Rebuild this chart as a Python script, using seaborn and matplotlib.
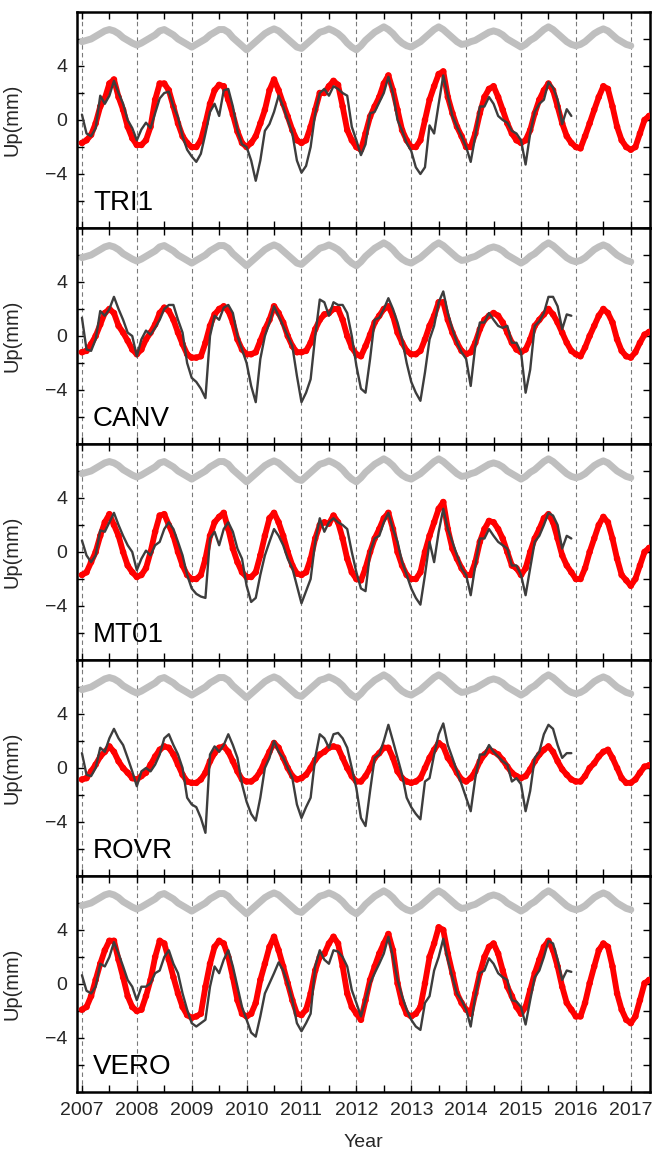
import numpy as np
import matplotlib
matplotlib.use("Agg")
import matplotlib.pyplot as plt
import seaborn as sns
from matplotlib.ticker import MultipleLocator, FixedLocator

# ---------------- data (monthly readings from the reference, start 2007.0) ----------------
stations = ["TRI1", "CANV", "MT01", "ROVR", "VERO"]
years = list(range(2007, 2018))

# common-mode signal (grey), 2007.0 .. 2017.0
gray_common = [
    5.8, 5.9, 6.0, 6.2, 6.4, 6.6, 6.7, 6.6, 6.4, 6.1, 5.9, 5.7,
    5.55, 5.7, 5.9, 6.1, 6.3, 6.6, 6.7, 6.5, 6.3, 6.0, 5.8, 5.6,
    5.4, 5.6, 5.8, 6.0, 6.3, 6.5, 6.7, 6.7, 6.5, 6.1, 5.8, 5.5,
    5.2, 5.5, 5.8, 6.1, 6.4, 6.6, 6.75, 6.6, 6.3, 6.0, 5.7, 5.4,
    5.3, 5.6, 5.9, 6.2, 6.5, 6.6, 6.75, 6.6, 6.4, 6.1, 5.7, 5.4,
    5.2, 5.5, 5.9, 6.2, 6.5, 6.7, 6.9, 6.7, 6.4, 6.0, 5.7, 5.5,
    5.4, 5.6, 5.8, 6.1, 6.4, 6.7, 6.9, 6.7, 6.4, 6.1, 5.8, 5.6,
    5.65, 5.8, 5.9, 6.1, 6.3, 6.5, 6.6, 6.5, 6.3, 6.0, 5.8, 5.6,
    5.4, 5.6, 5.9, 6.1, 6.4, 6.7, 6.9, 6.7, 6.4, 6.1, 5.8, 5.6,
    5.5, 5.6, 5.8, 6.1, 6.4, 6.6, 6.75, 6.6, 6.3, 6.0, 5.8, 5.6,
    5.5,
]

# GPS up (red dots), 2007.0 .. 2017.33
tri1_red = [
    -1.7, -1.5, -1.1, -0.25, 1.0, 1.6, 2.7, 3.0, 1.7, 0.75, -0.5, -1.35,
    -1.85, -1.85, -1.5, -0.5, 1.5, 2.7, 2.7, 2.2, 1.0, -0.25, -1.2, -1.7,
    -2.0, -2.0, -1.5, -0.25, 1.2, 2.2, 2.6, 2.5, 1.5, 0.4, -0.85, -1.7,
    -2.0, -1.7, -1.2, -0.25, 0.75, 2.2, 3.0, 2.2, 1.2, 0.25, -0.75, -1.5,
    -1.7, -1.5, -0.5, 0.75, 2.0, 2.0, 2.5, 2.9, 2.6, 1.0, -0.75, -1.5,
    -2.0, -2.2, -1.0, 0.25, 1.0, 1.7, 2.7, 3.3, 2.2, 0.75, -0.75, -1.5,
    -2.0, -2.0, -1.5, 0.0, 1.5, 2.5, 3.4, 3.6, 1.7, 0.5, -0.5, -1.2,
    -2.0, -2.0, -1.0, 0.5, 1.7, 2.3, 2.5, 1.7, 0.75, -0.25, -1.0, -1.5,
    -1.7, -1.5, -0.75, 0.5, 1.5, 2.2, 2.7, 2.2, 1.0, -0.25, -1.2, -1.7,
    -2.0, -2.1, -1.2, -0.25, 0.75, 1.7, 2.5, 2.3, 1.0, -0.5, -1.5, -2.0,
    -2.2, -2.0, -1.0, 0.0, 0.3,
]
canv_red = [
    -1.2, -1.1, -0.6, 0.0, 0.85, 1.7, 2.0, 1.7, 0.75, 0.25, -0.35, -1.0,
    -1.35, -1.0, -0.25, 0.25, 0.85, 1.7, 2.1, 1.85, 1.2, 0.25, -0.6, -1.35,
    -1.6, -1.6, -1.5, -0.5, 0.75, 1.6, 2.0, 2.2, 1.85, 1.0, -0.25, -1.0,
    -1.35, -1.35, -1.2, -0.35, 0.5, 1.2, 2.2, 1.7, 1.0, 0.0, -0.75, -1.2,
    -1.2, -1.1, -0.5, 0.5, 1.2, 1.6, 1.7, 2.0, 2.0, 1.2, 0.0, -0.85,
    -1.35, -1.5, -0.75, 0.1, 1.0, 1.5, 2.0, 2.2, 1.5, 0.25, -0.5, -1.1,
    -1.35, -1.35, -1.1, -0.25, 0.75, 1.5, 2.5, 2.5, 1.2, 0.25, -0.5, -1.1,
    -1.35, -1.2, -0.5, 0.5, 1.2, 1.5, 1.7, 1.5, 1.0, 0.25, -0.5, -1.0,
    -1.2, -1.0, -0.25, 0.75, 1.2, 1.6, 2.0, 1.6, 1.0, 0.25, -0.5, -1.1,
    -1.35, -1.5, -0.85, 0.0, 0.75, 1.5, 2.0, 1.7, 1.0, -0.25, -1.1, -1.5,
    -1.6, -1.2, -0.5, 0.1, 0.3,
]
mt01_red = [
    -1.7, -1.5, -0.75, 0.0, 1.2, 2.2, 2.8, 2.0, 1.2, 0.0, -1.0, -1.5,
    -1.85, -1.7, -1.2, 0.0, 1.5, 2.7, 2.8, 2.0, 1.2, 0.0, -1.0, -1.7,
    -2.0, -2.0, -1.7, -0.5, 1.2, 2.2, 2.6, 2.9, 1.7, 0.25, -0.75, -1.5,
    -1.85, -1.85, -1.5, -0.25, 1.2, 2.5, 2.9, 2.2, 1.2, 0.0, -1.0, -1.6,
    -1.7, -1.5, -0.5, 1.0, 2.0, 2.2, 2.1, 2.7, 2.2, 1.0, -0.5, -1.5,
    -2.0, -2.1, -1.2, 0.0, 1.0, 1.7, 2.5, 2.9, 1.7, 0.0, -1.0, -1.7,
    -2.0, -2.0, -1.5, 0.0, 1.2, 2.2, 3.2, 3.7, 1.7, 0.25, -0.5, -1.2,
    -1.7, -1.7, -0.75, 0.75, 1.7, 2.3, 2.2, 1.7, 1.0, 0.0, -1.0, -1.2,
    -1.7, -1.2, 0.0, 1.0, 1.7, 2.5, 2.8, 2.2, 1.0, -0.25, -1.0, -1.5,
    -2.0, -2.0, -1.2, 0.0, 1.0, 2.0, 2.6, 2.2, 1.0, -0.5, -1.7, -2.1,
    -2.5, -2.0, -1.0, 0.0, 0.3,
]
rovr_red = [
    -0.85, -0.75, -0.25, 0.25, 0.85, 1.2, 1.6, 1.2, 0.5, 0.0, -0.35, -0.75,
    -0.85, -0.6, -0.35, 0.25, 0.85, 1.35, 1.6, 1.5, 1.0, 0.25, -0.5, -1.0,
    -1.1, -1.1, -0.85, -0.35, 0.5, 1.1, 1.5, 1.6, 1.2, 0.5, -0.25, -0.85,
    -1.0, -1.0, -0.75, -0.25, 0.5, 1.2, 1.85, 1.5, 0.75, 0.0, -0.6, -0.85,
    -0.75, -0.5, 0.0, 0.6, 1.0, 1.2, 1.5, 1.6, 1.5, 0.75, 0.0, -0.6,
    -1.0, -1.0, -0.6, 0.0, 0.75, 1.1, 1.5, 1.5, 0.75, -0.25, -0.75, -1.0,
    -1.1, -1.0, -0.75, 0.0, 0.75, 1.35, 1.85, 1.6, 0.75, 0.25, -0.35, -0.85,
    -1.0, -0.75, -0.25, 0.5, 1.0, 1.35, 1.2, 1.0, 0.6, 0.1, -0.35, -0.6,
    -0.75, -0.6, -0.1, 0.5, 1.0, 1.35, 1.6, 1.2, 0.5, -0.1, -0.5, -0.85,
    -1.0, -1.0, -0.6, 0.0, 0.35, 0.85, 1.2, 1.35, 0.75, 0.0, -0.75, -1.1,
    -1.1, -0.85, -0.35, 0.1, 0.2,
]
vero_red = [
    -1.9, -1.7, -0.9, 0.3, 1.5, 2.5, 3.2, 3.2, 1.8, 0.5, -0.9, -1.7,
    -2.0, -1.9, -0.9, 0.3, 2.0, 3.2, 3.0, 1.8, 0.5, -0.7, -1.7, -2.3,
    -2.5, -2.4, -2.2, -0.2, 1.5, 2.75, 3.2, 3.0, 2.0, 0.5, -1.2, -2.2,
    -2.4, -2.2, -1.4, 0.3, 1.5, 2.75, 3.5, 2.5, 1.3, 0.05, -1.2, -2.2,
    -2.3, -1.9, -0.7, 1.0, 2.0, 2.25, 3.0, 3.5, 3.0, 1.3, -0.7, -1.7,
    -2.2, -2.65, -1.2, 0.3, 1.3, 2.25, 3.0, 3.7, 2.5, 0.05, -1.4, -2.2,
    -2.4, -2.2, -1.7, 0.05, 2.0, 3.0, 4.2, 4.0, 2.25, 0.8, -0.7, -1.4,
    -1.9, -2.2, -0.7, 0.8, 2.0, 2.75, 3.0, 2.25, 1.0, -0.2, -0.9, -1.7,
    -2.2, -1.7, -0.45, 0.8, 1.8, 2.75, 3.2, 2.5, 1.3, -0.2, -1.4, -1.9,
    -2.4, -2.4, -1.4, 0.05, 1.3, 2.5, 3.0, 2.75, 1.3, -0.7, -1.9, -2.65,
    -2.9, -2.4, -1.2, 0.05, 0.3,
]

# model (dark line), 2007.0 .. 2015.92
tri1_model = [
    0.4, -1.0, -1.2, -0.6, 1.8, 1.2, 1.8, 2.9, 2.0, 1.2, 0.0, -0.6,
    -1.5, -0.7, -0.2, -0.6, 0.5, 1.6, 2.0, 2.1, 1.0, 0.2, -1.2, -2.2,
    -2.7, -3.1, -2.5, -1.0, 0.6, 1.2, 0.3, 2.2, 2.3, 1.0, -0.8, -1.8,
    -2.0, -3.0, -4.5, -3.0, -0.8, -0.3, 0.6, 1.8, 1.0, 0.0, -1.0, -3.0,
    -3.9, -3.4, -2.0, 0.5, 2.0, 2.3, 1.8, 2.5, 2.3, 2.0, 1.8, -0.5,
    -1.5, -2.6, -1.8, 0.5, 0.6, 1.3, 2.0, 3.2, 2.0, 0.0, -0.8, -1.7,
    -2.3, -3.5, -4.0, -3.5, -0.4, -1.0, 1.2, 3.3, 1.8, 0.3, -0.5, -1.2,
    -2.0, -3.1, -1.2, 1.0, 1.0, 1.7, 1.2, 0.3, 0.0, -0.2, -0.8, -1.0,
    -1.5, -3.3, -1.0, 0.6, 1.2, 1.5, 2.8, 2.4, 1.5, -0.3, 0.8, 0.3,
]
canv_model = [
    1.35, -1.0, -1.1, -0.25, 1.85, 1.5, 2.0, 2.9, 2.0, 1.2, 0.25, 0.0,
    -1.5, -0.25, 0.4, 0.1, 0.6, 1.2, 2.0, 2.3, 2.3, 1.2, 0.25, -2.0,
    -3.1, -3.4, -3.9, -4.6, 0.0, 1.5, 1.2, 2.1, 2.3, 1.7, 0.0, -1.0,
    -2.0, -3.7, -4.9, -1.7, 0.0, 1.0, 2.2, 1.5, 0.75, 0.0, -0.75, -2.95,
    -4.9, -4.2, -3.2, 0.0, 2.7, 2.5, 1.5, 2.5, 2.3, 2.3, 1.7, 0.0,
    -2.2, -3.9, -4.2, -1.7, 1.2, 1.35, 2.0, 2.8, 2.0, 1.0, -0.25, -2.0,
    -3.4, -4.2, -4.8, -2.7, -0.25, 0.75, 2.5, 3.3, 1.7, 0.5, -0.5, -1.2,
    -1.7, -3.7, -0.75, 1.0, 1.0, 1.7, 1.2, 0.75, 0.6, 0.75, -0.5, -0.5,
    -1.2, -4.2, -2.5, 0.75, 1.1, 1.7, 2.9, 2.9, 2.2, 0.5, 1.6, 1.5,
]
mt01_model = [
    0.85, -0.25, -0.75, -0.25, 1.6, 1.5, 2.2, 2.9, 2.0, 1.2, 0.5, 0.0,
    -1.35, -0.5, 0.1, -0.25, 0.5, 0.75, 1.7, 2.2, 1.7, 0.75, -0.25, -1.7,
    -2.7, -3.1, -3.3, -3.4, 1.0, 1.5, 0.5, 1.7, 2.2, 1.5, 0.25, -0.5,
    -2.5, -3.7, -3.4, -1.7, -0.25, 0.75, 1.7, 1.2, 0.5, -0.5, -1.2, -2.5,
    -3.8, -2.9, -2.0, 0.75, 2.5, 1.5, 2.2, 2.5, 2.2, 2.0, 1.7, 0.0,
    -1.5, -2.7, -2.9, 0.0, 1.0, 1.2, 2.2, 2.9, 1.7, 0.75, -0.75, -1.7,
    -2.7, -3.4, -3.9, -1.7, 0.75, -0.75, 1.5, 3.2, 1.7, 0.75, -0.25, -1.2,
    -1.7, -3.2, -1.0, 1.0, 1.0, 1.7, 1.2, 0.75, 0.5, 0.25, -1.0, -1.0,
    -1.7, -3.2, -1.2, 0.75, 1.2, 2.0, 2.9, 2.7, 2.0, 0.25, 1.2, 1.0,
]
rovr_model = [
    1.1, -0.5, -0.6, 0.0, 1.5, 1.2, 2.2, 2.9, 2.2, 1.7, 0.75, -0.25,
    -1.35, -0.25, 0.0, -0.25, 0.25, 1.0, 2.2, 2.5, 1.7, 1.0, 0.0, -2.2,
    -2.7, -2.9, -3.7, -4.8, 1.0, 1.6, 1.2, 1.7, 2.5, 1.7, 0.75, -1.2,
    -2.5, -3.4, -3.9, -2.2, 0.0, 0.75, 2.0, 1.2, 0.75, 0.0, -0.75, -2.7,
    -3.7, -2.9, -2.2, 0.75, 2.5, 2.2, 1.5, 2.5, 2.6, 2.2, 1.5, 0.0,
    -1.5, -3.7, -4.3, -1.7, 0.75, 1.0, 2.0, 3.2, 2.0, 0.75, -0.5, -2.2,
    -2.9, -3.4, -3.8, -1.0, -0.75, 1.0, 2.5, 3.3, 1.7, 0.75, -0.25, -1.2,
    -2.2, -3.2, -0.75, 1.0, 1.0, 1.7, 1.2, 0.85, 0.5, 0.25, -1.0, -0.75,
    -1.2, -3.2, -1.7, 0.75, 1.2, 2.5, 3.2, 2.9, 1.7, 0.75, 1.1, 1.1,
]
vero_model = [
    0.65, -0.5, -0.7, -0.2, 1.5, 1.3, 2.0, 3.1, 2.25, 1.3, 0.3, -0.2,
    -1.2, -0.2, -0.2, 0.05, 0.8, 1.0, 2.0, 2.5, 1.5, 0.8, -0.7, -1.9,
    -2.9, -3.15, -2.9, -2.65, -0.2, 1.3, 0.8, 1.8, 2.5, 1.3, -0.2, -1.7,
    -2.65, -3.6, -3.9, -2.4, -0.7, 0.05, 0.8, 1.6, 1.0, 0.05, -1.2, -2.9,
    -3.5, -2.9, -2.2, 1.3, 2.5, 1.8, 1.5, 2.5, 2.4, 2.0, 1.3, -0.45,
    -1.4, -2.4, -1.2, 0.05, 0.8, 1.5, 2.25, 3.5, 2.0, 0.3, -0.9, -1.9,
    -2.65, -3.15, -3.4, -1.4, -0.9, 1.0, 2.0, 3.35, 1.8, 0.5, -0.7, -1.2,
    -1.9, -3.15, -0.9, 0.8, 1.0, 1.9, 1.5, 0.8, 0.5, 0.3, -1.2, -1.3,
    -1.7, -3.0, -1.2, 0.5, 1.0, 2.0, 3.2, 3.0, 1.8, 0.3, 1.0, 0.9,
]

red_series = dict(zip(stations, [tri1_red, canv_red, mt01_red, rovr_red, vero_red]))
model_series = dict(zip(stations, [tri1_model, canv_model, mt01_model, rovr_model, vero_model]))

y_ticks = [-4, 0, 4]
y_ticklabels = ["\u22124", "0", "4"]

# ---------------- plotting ----------------
sns.set_style("ticks")
plt.rcParams["font.family"] = ["Liberation Sans", "DejaVu Sans"]

fig, axes = plt.subplots(5, 1, figsize=(6.52, 11.49), dpi=100, sharex=True)
fig.subplots_adjust(left=77 / 652, right=650 / 652, top=1 - 12 / 1149,
                    bottom=1 - 1092 / 1149, hspace=0)


def month_axis(n):
    return 2007 + np.arange(n) / 12.0


t_gray = month_axis(len(gray_common))

for ax, name in zip(axes, stations):
    red = red_series[name]
    mod = model_series[name]
    t_red = month_axis(len(red))
    t_mod = month_axis(len(mod))

    for yr in years:
        ax.axvline(yr, color="#7a7a7a", ls=(0, (4, 3)), lw=0.8, zorder=0)

    sns.lineplot(x=t_gray, y=gray_common, ax=ax, color="#bfbfbf", lw=5.0,
                 estimator=None, sort=False, zorder=1)
    sns.lineplot(x=t_red, y=red, ax=ax, color="#ff0000", lw=4.2,
                 estimator=None, sort=False, zorder=2)
    sns.scatterplot(x=t_red, y=red, ax=ax, color="#ff0000", s=22,
                    edgecolor="none", zorder=3)
    sns.lineplot(x=t_mod, y=mod, ax=ax, color="#3d3d3d", lw=1.7,
                 estimator=None, sort=False, zorder=4)

    ax.set_xlim(2006.91, 2017.35)
    ax.set_ylim(-8, 8)
    ax.yaxis.set_major_locator(FixedLocator(y_ticks))
    ax.set_yticklabels(y_ticklabels)
    ax.yaxis.set_minor_locator(MultipleLocator(2))
    ax.xaxis.set_major_locator(FixedLocator(years))
    ax.xaxis.set_minor_locator(MultipleLocator(0.5))
    ax.tick_params(which="both", direction="in", top=True, right=True,
                   length=5, width=1.0, labelsize=14, pad=7, color="black")
    for sp in ax.spines.values():
        sp.set_linewidth(1.8)
        sp.set_color("black")
    ax.set_ylabel("Up(mm)", fontsize=14.5)
    ax.yaxis.set_label_coords(-0.097, 0.5)
    ax.set_xlabel("")
    ax.text(0.028, 0.083, name, transform=ax.transAxes, fontsize=20,
            va="baseline", ha="left", color="black")

axes[-1].set_xticklabels([str(y) for y in years])
axes[-1].set_xlabel("Year", fontsize=14, labelpad=11)

fig.savefig("out.png", dpi=100)
